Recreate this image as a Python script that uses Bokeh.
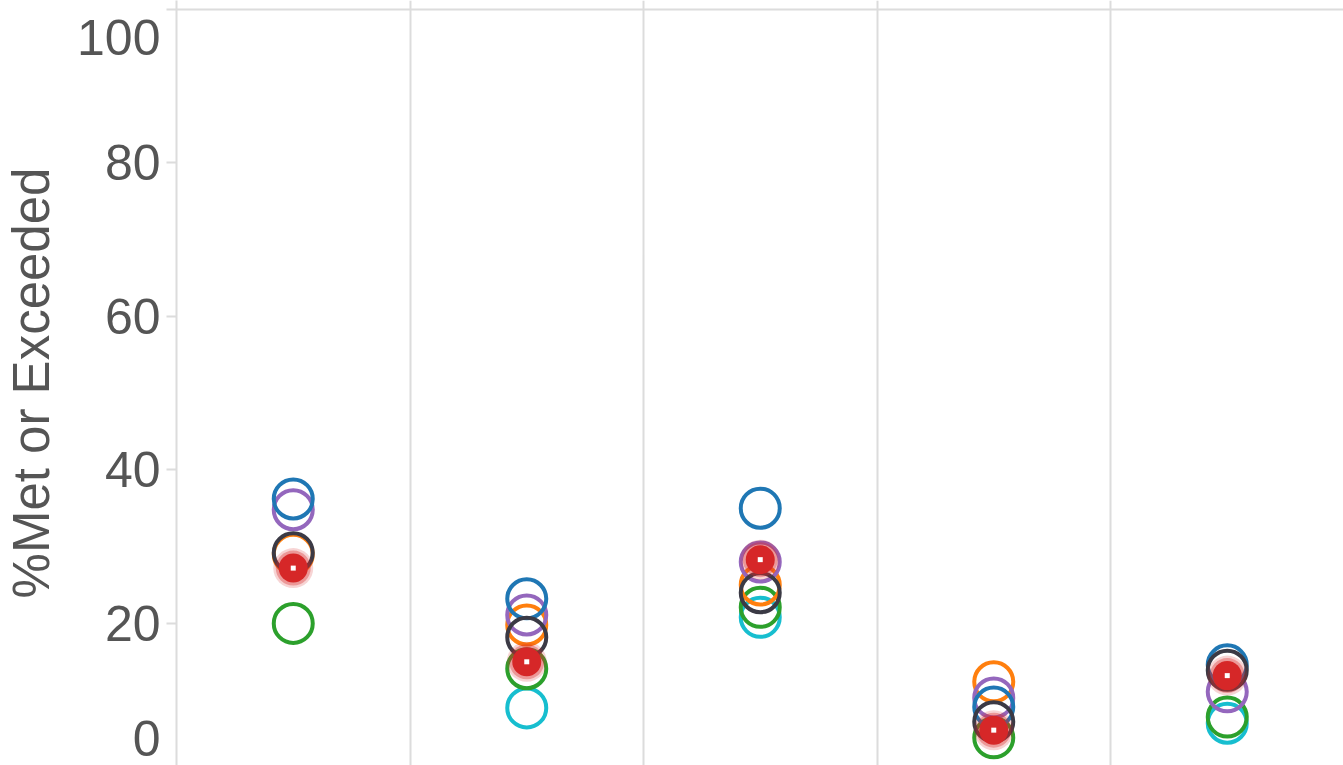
from bokeh.plotting import figure
from bokeh.models import Range1d, FixedTicker, ColumnDataSource, LinearAxis
from bokeh.embed import file_html
from bokeh.resources import INLINE

# ---- data -------------------------------------------------------------
categories = ["Group 1", "Group 2", "Group 3", "Group 4", "Group 5"]
cyan   = [None, 9.0, 20.8, None, 7.0]
green  = [20.0, 14.1, 22.1, 5.1, 7.8]
orange = [29.0, 19.8, 25.0, 12.4, None]
purple = [34.8, 21.1, 28.0, 10.3, 11.1]
blue   = [36.2, 23.2, 35.0, 9.1, 14.6]
gray   = [29.2, 18.2, 24.0, 7.2, 13.9]
red    = [27.2, 15.0, 28.3, 6.1, 13.2]
y_ticks = [0, 20, 40, 60, 80, 100]
y_tick_labels = ["0", "20", "40", "60", "80", "100"]
y_title = "%Met or Exceeded"

hollow = [(cyan, "#17becf"), (green, "#2ca02c"), (orange, "#ff7f0e"),
          (purple, "#9467bd"), (blue, "#1f77b4"), (gray, "#3b3a45")]

FONT = "Liberation Sans"
TXT = "#555555"
GRID = "#dcdcdc"

W, H = 1343, 765
LEFT = 176
PX_PER_UNIT = 7.68          # vertical scale of the reference
Y_END = 100 + 8.5 / PX_PER_UNIT
Y_START = Y_END - H / PX_PER_UNIT
CAT_W = 233.5
X_END = (W - LEFT) / CAT_W

p = figure(width=W, height=H, output_backend="svg", toolbar_location=None,
           x_range=Range1d(0, X_END), y_range=Range1d(Y_START, Y_END),
           y_axis_location=None,
           min_border_left=LEFT, min_border_right=0, min_border_top=0,
           min_border_bottom=0)
p.outline_line_color = None
p.background_fill_color = "white"
p.xaxis.visible = False

# grid lines between categories, and a top rule at 100
p.xgrid.ticker = FixedTicker(ticks=[i for i in range(1, len(categories))])
p.xgrid.grid_line_color = GRID
p.xgrid.grid_line_width = 2
p.ygrid.ticker = FixedTicker(ticks=[y_ticks[-1]])
p.ygrid.grid_line_color = GRID
p.ygrid.grid_line_width = 2

# axis 1: line + tick marks, no labels
ax = LinearAxis(ticker=FixedTicker(ticks=y_ticks))
ax.major_label_overrides = {t: "" for t in y_ticks}
ax.axis_line_color = GRID
ax.axis_line_width = 2
ax.major_tick_line_color = GRID
ax.major_tick_line_width = 2
ax.major_tick_out = 10
ax.major_tick_in = 0
ax.minor_tick_line_color = None
ax.major_label_standoff = 0
ax.major_label_text_font_size = "1px"
p.add_layout(ax, "left")

# axis 2: tick labels, first/last flushed inside the axis extent
shift_top = -28.5 / PX_PER_UNIT
shift_bot = 38.0 / PX_PER_UNIT
label_pos = []
for i, t in enumerate(y_ticks):
    if i == len(y_ticks) - 1:
        label_pos.append(round(t + shift_top, 3))
    elif i == 0:
        label_pos.append(round(t + shift_bot, 3))
    else:
        label_pos.append(t)
ax2 = LinearAxis(ticker=FixedTicker(ticks=label_pos))
ax2.major_label_overrides = {pos: lab for pos, lab in zip(label_pos, y_tick_labels)}
ax2.axis_line_color = None
ax2.major_tick_line_color = None
ax2.minor_tick_line_color = None
ax2.major_tick_out = 0
ax2.major_tick_in = 0
ax2.major_label_text_font = FONT
ax2.major_label_text_font_size = "50px"
ax2.major_label_text_color = TXT
ax2.major_label_standoff = 6
ax2.axis_label = y_title
ax2.axis_label_text_font = FONT
ax2.axis_label_text_font_size = "51px"
ax2.axis_label_text_font_style = "normal"
ax2.axis_label_text_color = TXT
ax2.axis_label_standoff = 14
p.add_layout(ax2, "left")

xs = [i + 0.5 for i in range(len(categories))]

for vals, col in hollow:
    px = [x for x, v in zip(xs, vals) if v is not None]
    py = [v for v in vals if v is not None]
    src = ColumnDataSource(dict(x=px, y=py))
    p.scatter("x", "y", source=src, size=39, marker="circle",
              fill_color=None, line_color=col, line_width=4)

rsrc = ColumnDataSource(dict(x=xs, y=red))
p.scatter("x", "y", source=rsrc, size=40, fill_color="#d62728", fill_alpha=0.2,
          line_color=None)
p.scatter("x", "y", source=rsrc, size=35, fill_color="#d62728", fill_alpha=0.35,
          line_color=None)
p.scatter("x", "y", source=rsrc, size=29, fill_color="#d62728", line_color=None)
p.scatter("x", "y", source=rsrc, size=5, marker="square", fill_color="white",
          line_color=None)

open("out.html", "w").write(file_html(p, INLINE))
